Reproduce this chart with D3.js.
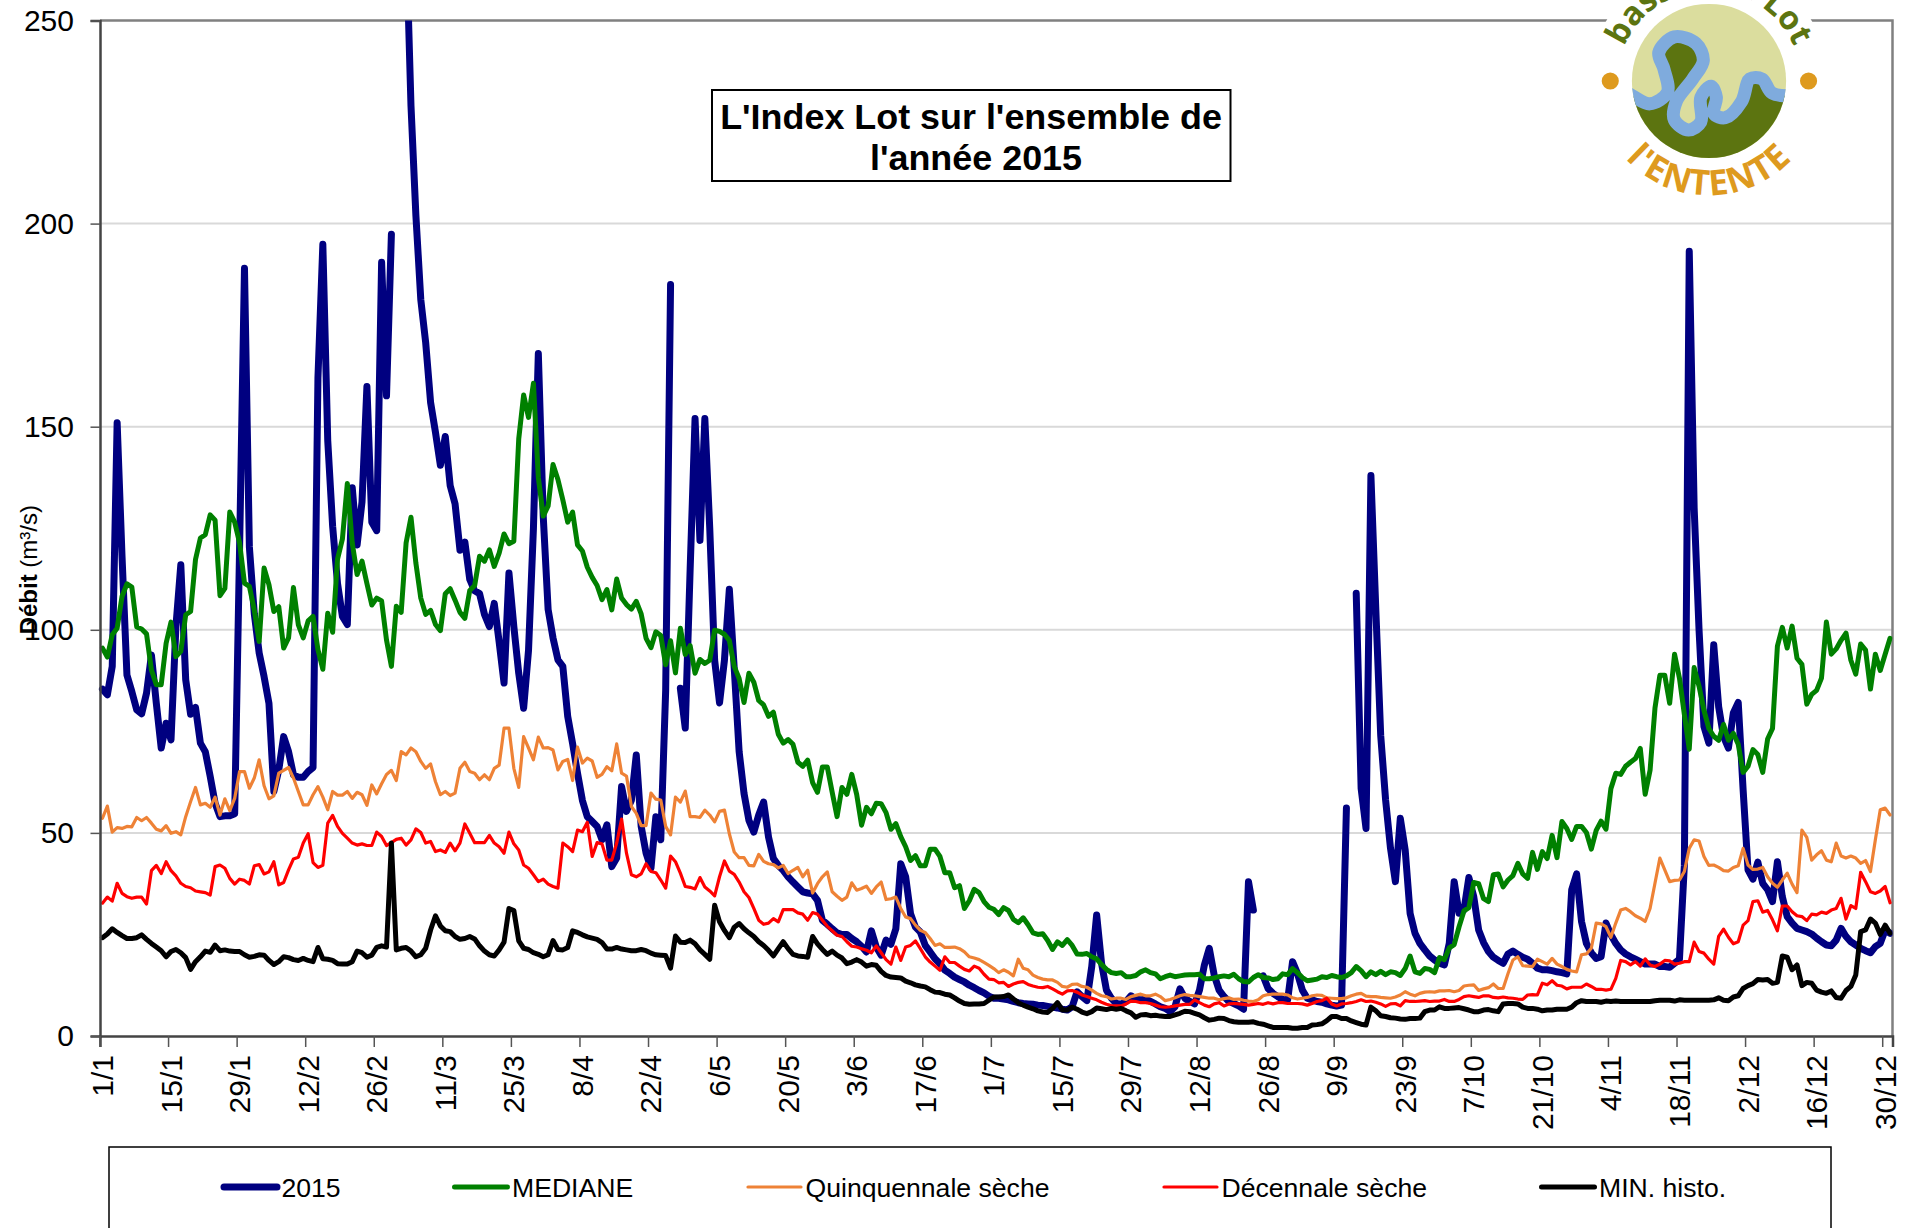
<!DOCTYPE html>
<html>
<head>
<meta charset="utf-8">
<script src="https://cdn.jsdelivr.net/npm/d3@7"></script>
<style>
html, body { margin: 0; padding: 0; background: #fff; overflow: hidden; }
svg { display: block; font-family: "Liberation Sans", Arial, sans-serif; }
</style>
</head>
<body>
<svg id="chart" width="1912" height="1228"></svg>
<script>
const tickLabels = ["1/1","15/1","29/1","12/2","26/2","11/3","25/3","8/4","22/4","6/5","20/5","3/6","17/6","1/7","15/7","29/7","12/8","26/8","9/9","23/9","7/10","21/10","4/11","18/11","2/12","16/12","30/12"];
const yTicks = [0, 50, 100, 150, 200, 250];

// daily flows in m3/s, 366 rows per series (null = no measure that day)
const debit2015 = [
85.4,84,91,151,118,88.9,84.8,80.3,79.3,84.4,
93.8,81.9,70.9,77,72.9,100.8,116,87.7,79.2,80.9,
72.1,70,63.9,57.3,54,54.2,54.2,54.7,120,189,
120.4,104,94.3,88.5,81.9,60.2,65.5,73.7,70,64.3,
63.7,63.7,65.1,66.1,162,194.9,146.6,125.5,111.4,103.3,
101.3,135,120.9,131.5,159.9,126.5,124.4,190.5,157.6,197.4,
null,null,271,229,202,181.3,170.7,156,148.6,140.5,
147.6,135.5,131,119.6,121.6,112.4,109.6,108.9,103.8,100.8,
106.5,97,86.9,114,100.8,89.3,80.7,95,125,168,
128,105,98,92.6,91,78.7,72,64.7,58,54,
52.8,51.6,48.3,52,41.7,43.8,61.4,55.3,58,69.2,
51.6,45,41.3,54,48.3,85,185,null,85.6,75.8,
115,152,122,152,125,92.5,82,92.5,110,90.5,
70,59.7,53.1,50.2,54.4,57.6,49,43.7,42,40.8,
39.2,37.9,36.7,35.5,35.2,35,33.4,28.5,27.5,26.4,
25.4,25,25,24,23.2,22.1,20.7,25.9,21.9,19.9,
23.6,22.6,26.4,42.4,39.2,30.1,26.8,25.6,22.3,20.7,
19,17.8,16.2,15.4,14.5,13.9,13.3,12.5,11.9,11.2,
10.6,9.8,9.3,9.3,9.1,8.9,8.5,8.2,8,7.9,
7.8,7.6,7.5,7.3,7.1,6.9,6.6,6.4,7.2,10.9,
9.7,8.7,17.1,29.8,17.9,11.3,9.3,8,7.8,8.5,
9.9,9.1,8.9,9.1,8.5,7.9,7.2,6.8,6,7.2,
11.6,9.3,8.5,7.9,11.3,17.5,21.6,15,11.3,9.7,
8.5,8,7.4,6.6,38,31,null,14.8,11.7,10.5,
9.7,9,8.9,18.3,15.4,11.3,9.3,8.9,8.5,8.3,
7.9,7.6,7.4,7.6,56.1,null,109,61,51.1,138,
105,74,58.1,46.2,38,53.6,45.8,30.2,25.3,22.8,
21.2,19.7,18.7,17.9,17.5,22.8,38,30.2,31,39,
34.3,26.1,23,20.8,19.4,18.6,17.9,20.2,20.9,20.1,
19.4,18.9,17.9,16.7,16.3,16.3,16.1,15.8,15.6,15.3,
36,39.9,28.2,22.8,20.5,19.1,19.5,27.8,24.9,22.8,
21.2,20.2,19.5,18.9,18.3,17.7,17.7,17.7,17.1,17.1,
16.9,17.9,18.9,42,193.2,130,100,76.2,72.1,96.3,
81.1,73.7,70.9,79.5,82.1,60.6,40.9,38.6,42.8,37.6,
36,33.1,42.9,34.3,29.4,27.8,26.5,26.1,25.7,25.1,
24.1,23.2,22.4,22.2,23.6,26.5,24.5,23.2,22.4,21.6,
21,20.5,22,22.8,26.1,25.3];

const mediane = [
95.5,93.3,98.8,100.4,108.2,111.3,110.5,100.7,100.2,99,
90.1,86.5,86.5,96.7,101.9,93.4,94.7,103.7,104.5,117.3,
122.6,123.4,128.3,127,108.4,110.2,129,126.5,121.4,111.5,
110.7,104.9,97.1,115.2,111.1,104.5,105.7,95.5,98,110.4,
101.2,98,102.2,103.3,95.1,90.3,104.1,99.4,117.4,122.4,
136,121.4,113.6,116.9,111.4,106.1,107.8,107.1,97.5,91,
105.8,104.3,121.4,127.7,116.4,107.8,103.8,104.8,101.3,99.8,
108.9,110.1,107.3,104.3,102.8,109.7,110.9,118.1,116.9,119.7,
115.6,118.9,123.6,121.2,121.8,147,157.8,152.3,160.7,137.5,
128,130.5,140.7,137,132,126.5,129,120.9,119.4,115.4,
112.9,110.9,107.4,109.9,104.9,112.5,107.8,106.2,105.1,107,
103.9,97.9,95.6,99.5,98.6,91.4,97.3,89.4,100.4,93.9,96.1,
89.3,92.7,91.7,92.5,99.9,99.6,98.9,97.4,91,88,
82.1,89.3,87.1,82.6,81.5,78.7,79.7,74.3,72.1,73,
71.8,67.4,66.4,67.9,62.4,60,66.2,66.2,60,54,
61.2,59.5,64.4,59.5,51.9,56.3,54.7,57.3,57.2,55,
50.9,52.3,49.1,46.6,43.2,44.4,41.9,41.9,46,46,
44.2,40.2,40.2,36.5,37,31.4,33.3,36.1,35.3,33.1,
31.7,31.2,29.9,31.6,30.9,28.7,27.9,29.1,27.4,25.4,
25,25.2,23.5,21.3,23.2,22.3,23.7,22.3,20.2,20.1,
20.3,19.5,19,17.6,16.4,15.6,15.4,15.6,14.6,14.6,
14.9,15.8,16.3,15.6,15.3,14.1,14.6,15,14.6,14.8,
15,15.1,15.1,15.2,14.1,14.1,14.3,14.6,14.8,14.6,
15.2,14.1,13.4,13.3,14.4,15.1,14.4,14.3,13.9,14.1,
15.3,15.1,16.6,15.6,14.4,13.6,13.8,14,14.6,14.4,
14.9,14.6,14.4,14.8,15.6,17.1,16.1,14.6,15.8,15.1,
15.9,15.1,15.8,15.6,14.9,16.6,19.7,15.8,15.4,16.6,
16.4,15.6,19.3,18.8,21.7,22.5,26.9,30.8,31.6,37.8,
37.5,33.8,33.1,39.7,39.9,36.7,38.4,39.5,42.5,39.9,
38.8,45.2,41,45.4,43.7,49.4,43.9,52.8,51.1,48.4,
51.6,51.6,50.1,46,50.6,52.9,50.9,60.9,64.7,64.4,
66.4,67.4,68.3,70.8,59.5,65.4,80.7,88.8,88.8,81.9,
94,88.1,79.2,70.6,90.7,86.1,80.2,75.7,73.8,72.8,
76.7,72.8,74.5,71.8,64.9,66.4,70.5,69.3,64.9,73.1,
75.7,96,100.6,95.5,100.9,93,91.5,81.7,84.1,85.1,
88.1,101.9,94,95.3,97.4,99.2,92.5,89.1,96.5,95,
85.4,94,90,94,97.9];

const quinquennale = [
53.6,56.6,50.2,51.3,51.1,51.6,51.5,53.8,53,53.8,
52.4,50.9,50.5,51.8,49.9,50.3,49.5,54,57.7,61.2,
56.9,57.3,56.3,58.8,54.4,58.4,55.5,58.5,65.1,65.1,
61,63.5,68,61.6,58.4,59.1,64.7,65.4,66.1,63.5,
60.2,56.9,56.9,59.4,61.4,58.8,55.7,60.2,59.3,59.3,
60.2,58.5,60,59.4,56.8,61.8,59.6,62.1,64.4,65.4,
62.9,70,69.2,70.9,70,67.6,65.9,67,62.6,59.4,
60.2,59.2,59.8,65.9,67.4,65.1,64.7,63.1,64.3,63.1,
65.9,66.7,75.8,75.8,65.9,61.2,73.7,70.9,68,73.6,
70.9,71,70.4,65.5,67.6,68.1,62.9,71.1,67.2,68.4,
67.7,63.7,64.4,66.3,65.3,71.9,64.7,64,56.5,54.8,
51.8,51.8,59.8,58.3,58.1,51.6,49.5,58.8,57.6,60.3,
54,54,53.8,55.6,54.4,52.7,55.3,55.6,49.8,45.3,
43.9,43.9,42,41.9,44.7,43,42.4,42.2,41.4,42,
40,40.8,41.5,39.2,40.8,35.2,37.5,39.2,40.4,35.5,
34.4,33.4,34.2,37.7,35.9,36.3,36.9,35.1,36.7,37.9,
33.6,33.8,34.2,31.4,29.3,28.9,27.3,26,25.5,24,
22.3,22.7,21.8,21.8,21.9,21.5,20.7,19.5,19.2,18.8,
18.1,17.4,16.6,15.6,16.3,15.7,14.8,18.9,16.7,16.3,
15,14.4,14,13.8,13.8,13.2,12.2,12,12.7,12.8,
12.2,12,11.3,10.5,9.9,9.7,9.1,9.3,9.3,9,
9.7,10,10.3,9.9,9.9,10.3,9.7,8.7,9,9.4,
9.9,10.2,10,9.9,9.7,9.5,9.3,9.3,8.9,9.2,
9.4,9,9.1,8.8,8.6,8.5,8.9,9.9,10.2,10.3,
10.3,10.3,10.1,9.4,9.1,9.3,9.5,9.9,10.1,10,
9.4,9.3,9.2,9.2,9.4,9.9,10.3,10.5,9.8,9.7,
9.7,9.5,9.4,9.3,9.6,10.1,10.9,10.3,9.9,10.5,
10.8,10.9,10.8,11.1,11.1,11.2,10.9,11.2,12.3,12.5,
12.6,11.2,11.6,11.9,12.8,11.7,11.7,15.4,18.7,19.5,
17.3,17.2,17.1,18.9,18.3,17.7,19.1,17.7,17.1,16.4,
16,15.8,20,20.2,21.6,27.8,27.6,26.9,24.3,27.8,
31,31.4,30.6,29.6,29,28.2,31.4,37.6,43.8,40.9,
38,38.3,38.4,40.5,46.2,48.3,48,44.2,42,42.1,
41.5,40.7,40.6,41.5,41.9,46.2,42.1,41,41.1,41.5,
39.2,37.6,36.6,38.4,40.1,37.4,35.3,50.7,48.9,43.3,
44.6,45.6,43.3,42.9,47.5,44.3,43.8,44.3,43.8,42.5,
43.2,40.5,48.3,55.7,56.1,54.4];

const decennale = [
32.7,34.2,33.2,37.6,35.1,34.3,33.9,34.2,34.2,32.5,
40.7,42,40,42.9,40.7,39.4,37.6,36.8,36.5,35.7,
35.5,35.3,34.7,41.7,42.1,41.3,38.8,37.4,38.6,38.3,
37.4,41.9,42.2,39.9,40.4,42.9,37.2,37.8,40.9,43.6,
44,47.5,49.8,42.7,41.5,42,52.4,54.3,51.6,49.9,
48.7,47.5,47,47.3,46.9,46.9,50.2,49.1,46.9,47.6,
48.4,48.7,47,48.3,51,50.1,47.5,47.9,45.4,45.8,
45.2,47.5,45.6,47.5,52.2,49.9,47.6,47.6,47.6,49.4,
47.5,46.6,45,50.2,47.3,45.8,42.1,41.3,39.7,38,
38.6,37.4,36.8,36.4,47.5,46.6,45.4,50.7,50.3,52.6,
44.2,47.6,47.3,43.3,43.3,47.5,53.4,45,39.7,39.2,
39.9,42.4,40.5,40.2,38.4,36.4,44.3,42.9,40.1,36.8,
36.6,36.2,39,36.7,35.7,34.5,39.2,43.1,40.6,39.8,
37.9,35.5,34.1,31.4,28.5,27.5,27.8,28.9,28.1,31.1,
31.1,31.1,30.3,30,28.5,30.4,30,28.5,27,25.9,
24.8,24.5,23.2,22.1,21.9,21.5,21.1,20.5,22.2,20.5,
18.8,17.7,21.9,18.6,21.9,22.3,23.4,21.5,19.5,18.2,
17.2,16.2,19.5,18.1,18.1,17.2,16.4,16,17.2,16.7,
15.2,14,13.9,13.1,13.2,12.2,12.8,13.2,13.4,12.7,
12.3,12,11.9,12.2,11.6,10.9,10.3,11.1,11.2,10.8,
10.1,9.7,9.3,8.9,8.3,7.8,7.5,7.4,7.4,7.9,
8.6,8.5,8.2,8.2,8,7.6,7.2,7.1,7.2,7.4,
7.6,7.8,7.8,8.9,8.2,7.6,7.2,7.9,8.2,7.4,
7.9,8,7.9,7.8,7.6,7.8,8,7.8,8.2,7.9,
8.2,8.2,8,8,8,7.9,7.6,8,8.5,8.7,
9.3,7.9,7.4,7.9,8,8.2,8.5,8.9,8.5,8.6,
8.3,7.9,7.3,7.9,8,7.4,8.7,8.5,8.5,8.6,
8.7,8.5,8.6,8.6,9,8.5,8.5,9,9.7,9.9,
9.7,9.5,9.9,9.9,9.5,9.4,9.6,9.4,9.3,9.1,
9,10.1,10.2,10.1,13,12.6,13.6,12.5,12.3,11.6,
12,12,12,12.8,12.2,11.5,11.5,11.3,11.5,14.2,
18.6,18.3,17.5,18.3,17.2,19,17.5,17.1,17.7,18.6,
18.5,17.7,17.9,18.3,18.3,23.1,20.8,20.4,18.9,17.7,
24.5,26.3,24.3,22.7,23.2,27.3,28.4,33.1,33.3,30.5,
30.9,28.6,25.9,32,32,30.6,29.6,29.4,28.4,30,
29.8,30.5,30.2,31,31.4,33.9,28.8,32.1,31.4,40.3,
38,35.5,35.1,35.7,36.8,32.8];

const minHisto = [
24.2,25.1,26.4,25.5,24.7,24,24,24.2,24.9,23.8,
22.8,21.9,21,19.5,20.8,21.3,20.5,19.3,16.4,18.3,
19.5,20.9,20.6,22.4,21,21.2,20.9,20.8,20.8,20,
19.4,19.6,20,19.9,18.6,17.6,18.3,19.5,19.3,18.8,
18.6,19.1,18.6,18.3,21.8,19,18.9,18.6,17.8,17.7,
17.7,18.3,20.9,20.5,19.4,19.9,21.8,22.2,21.9,47.5,
21.2,21.6,21.8,20.9,19.5,20,21.6,26.1,29.6,27.1,
25.9,25.7,24.5,23.8,24,24.5,23.9,22.2,20.9,20,
19.7,21.2,23.1,31.4,30.9,23.4,21.6,21.3,20.5,20.1,
19.5,20,23.5,21.3,21.2,21.8,25.9,25.5,24.9,24.4,
24.1,23.8,23,21.4,21.4,21.8,21.4,21.2,21,21,
21.3,21,20.4,20,19.9,19.8,16.7,24.6,23.1,23,
23.6,22.7,21.2,20.1,18.9,32.2,28.1,26,24.2,26.8,
27.7,26.4,25.4,24.5,23.2,22.3,21.1,19.7,21.5,23.2,
21.5,20.1,19.7,19.6,19.4,24.5,22.7,21.3,20.1,20.9,
19.9,19.2,17.8,18.2,18.8,18.2,17.2,17.6,17.4,15.9,
14.9,14.5,14.4,14.3,13.5,13.1,12.6,12.3,12.1,11.4,
10.8,10.7,10.3,10.1,9.4,8.6,8,7.8,7.9,7.9,
8,8.8,9.6,9.6,9.7,10.1,9.1,8.2,7.6,7.1,
6.7,6.2,5.9,5.8,6.8,8.2,6.4,6.4,7.1,6.6,
5.9,5.5,6,6.9,6.7,6.5,6.8,6.6,6.8,6.2,
5.7,4.6,5.2,5.3,5,5.1,4.9,4.8,4.8,5.2,
5.6,6.1,6,5.6,5.2,4.5,3.9,4.1,4.4,4.3,
3.8,3.5,3.4,3.4,3.4,3.5,3.1,2.9,2.5,2.1,
2.1,2.1,2.1,1.9,1.9,2.1,2.1,2.7,2.8,3,
3.8,4.8,4.8,4.3,4.3,3.7,3.3,2.9,2.7,7.1,
6.2,5,4.8,4.5,4.4,4.2,4.1,4.3,4.3,4.4,
6,6.4,6.4,7.2,6.8,6.8,6.9,7,6.7,6.4,
6,6,6.4,6.5,6.2,6,7.9,8,8,7.9,
7.1,6.8,6.8,6.6,6.2,6.4,6.4,6.6,6.6,6.6,
7.1,8.2,8.7,8.5,8.5,8.5,8.3,8.6,8.5,8.6,
8.5,8.5,8.5,8.5,8.5,8.5,8.5,8.7,8.8,8.8,
8.8,8.6,8.9,8.8,8.8,8.8,8.8,8.8,8.8,8.9,
9.4,8.8,8.7,9.6,9.9,11.7,12.4,12.9,13.9,13.8,
13.9,13,13.2,19.7,19.4,16.3,17.5,12.4,13.2,13,
11.3,10.8,10.5,11.1,9.5,9.3,11.2,12.2,15,25.7,
26.1,28.8,27.8,25,27.3,25.3];

const seriesNames = ["2015", "MEDIANE", "Quinquennale sèche", "Décennale sèche", "MIN. histo."];
const seriesValues = [debit2015, mediane, quinquennale, decennale, minHisto];

let colors = ["#000080", "#008000", "#EE8236", "#FF0000", "#000000"];
let widths = [7, 5, 3.2, 3.2, 5];
let legendSwatchX = [223, 453.5, 747, 1163, 1540.5];

let svg = d3.select("#chart");
let plot = { left: 100, right: 1892.5, top: 20.5, bottom: 1036 };

let xScale = d3.scaleBand()
    .domain(d3.range(debit2015.length))
    .range([plot.left, plot.right]);
let yScale = d3.scaleLinear()
    .domain([0, 250])
    .range([plot.bottom, plot.top]);

// gridlines
svg.append("g").selectAll("line")
    .data(yTicks.slice(1, 5))
    .enter().append("line")
    .attr("x1", plot.left)
    .attr("x2", plot.right)
    .attr("y1", d => yScale(d))
    .attr("y2", d => yScale(d))
    .attr("stroke", "#d9d9d9")
    .attr("stroke-width", 2);

// top and right border of the plot
svg.append("path")
    .attr("d", `M${plot.left},${plot.top}H${plot.right}V${plot.bottom}`)
    .attr("fill", "none")
    .attr("stroke", "#808080")
    .attr("stroke-width", 2.5);

svg.append("clipPath").attr("id", "plotClip")
    .append("rect")
    .attr("x", plot.left - 2)
    .attr("y", plot.top)
    .attr("width", plot.right - plot.left + 2)
    .attr("height", plot.bottom - plot.top);

let line = d3.line()
    .defined(d => d !== null)
    .x((d, i) => xScale(i) + xScale.bandwidth() / 2)
    .y(d => yScale(d));

svg.append("g").attr("clip-path", "url(#plotClip)")
    .selectAll("path")
    .data(seriesValues)
    .enter().append("path")
    .attr("d", d => line(d))
    .attr("fill", "none")
    .attr("stroke", (d, i) => colors[i])
    .attr("stroke-width", (d, i) => widths[i])
    .attr("stroke-linejoin", "round")
    .attr("stroke-linecap", "round");

// axes
let yAxis = svg.append("g")
    .attr("transform", `translate(${plot.left},0)`)
    .call(d3.axisLeft(yScale).tickValues(yTicks).tickSize(9.5).tickPadding(16.5));
yAxis.select(".domain").attr("stroke", "#444").attr("stroke-width", 2.5);
yAxis.selectAll("line").attr("stroke", "#555").attr("stroke-width", 1.5);
yAxis.selectAll("text")
    .attr("font-family", "Liberation Sans")
    .attr("font-size", 30)
    .attr("fill", "#000");

let xAxis = svg.append("g")
    .attr("transform", `translate(0,${plot.bottom})`)
    .call(d3.axisBottom(xScale)
        .tickValues(d3.range(0, debit2015.length, 14))
        .tickFormat((d, i) => tickLabels[i])
        .tickSize(11));
xAxis.select(".domain").attr("stroke", "#444").attr("stroke-width", 2.5);
// Excel puts the tick marks on the edge of the category, not the middle
xAxis.selectAll("line")
    .attr("x1", -xScale.bandwidth() / 2)
    .attr("x2", -xScale.bandwidth() / 2)
    .attr("stroke", "#555")
    .attr("stroke-width", 1.5);
xAxis.selectAll("text")
    .attr("font-family", "Liberation Sans")
    .attr("font-size", 30)
    .attr("fill", "#000")
    .attr("text-anchor", "end")
    .attr("dy", "0.35em")
    .attr("transform", "translate(0,10) rotate(-90)")
    .attr("x", -9)
    .attr("y", 0);

// y title
let yTitle = svg.append("text")
    .attr("transform", "translate(37,505) rotate(-90)")
    .attr("text-anchor", "end")
    .attr("font-size", 24);
yTitle.append("tspan").attr("font-weight", "bold").text("Débit");
yTitle.append("tspan").text(" (m³/s)");

// title box
svg.append("rect")
    .attr("x", 712)
    .attr("y", 90)
    .attr("width", 518.5)
    .attr("height", 91)
    .attr("fill", "#fff")
    .attr("stroke", "#000")
    .attr("stroke-width", 2);
svg.selectAll(".title")
    .data(["L'Index Lot sur l'ensemble de", "l'année 2015"])
    .enter().append("text")
    .attr("class", "title")
    .attr("x", (d, i) => 971 + i * 5)
    .attr("y", (d, i) => 129 + i * 41)
    .attr("text-anchor", "middle")
    .attr("font-size", 35.9)
    .attr("font-weight", "bold")
    .text(d => d);

// legend, its box runs off the bottom of the page
svg.append("rect")
    .attr("x", 109)
    .attr("y", 1147)
    .attr("width", 1722)
    .attr("height", 200)
    .attr("fill", "#fff")
    .attr("stroke", "#000")
    .attr("stroke-width", 1.5);
let legend = svg.selectAll(".legend")
    .data(seriesNames)
    .enter().append("g")
    .attr("class", "legend")
    .attr("transform", (d, i) => `translate(${legendSwatchX[i]},1187)`);
legend.append("line")
    .attr("x1", 1)
    .attr("x2", 54)
    .attr("stroke", (d, i) => colors[i])
    .attr("stroke-width", (d, i) => widths[i])
    .attr("stroke-linecap", "round");
legend.append("text")
    .attr("x", 58.5)
    .attr("y", 9.5)
    .attr("font-size", 26.6)
    .text(d => d);

// logo, drawn in its own coordinates and scaled down
let logo = svg.append("g")
    .attr("transform", "translate(1709,81) scale(0.408) translate(-1070,-200)");
logo.append("circle").attr("cx", 1070).attr("cy", 200).attr("r", 292).attr("fill", "#fff");
logo.append("clipPath").attr("id", "logoClip")
    .append("circle").attr("cx", 1070).attr("cy", 200).attr("r", 189);
let riverPoints = [[860,222],[885,238],[925,256],[968,228],[960,172],[947,130],[985,92],[1038,108],[1056,150],[1030,195],[990,250],[985,295],[1020,320],[1050,300],[1050,240],[1075,213],[1088,240],[1082,280],[1110,290],[1150,250],[1170,195],[1200,195],[1225,230],[1280,236]];
let riverLine = d3.line().curve(d3.curveCatmullRom);
let logoInner = logo.append("g").attr("clip-path", "url(#logoClip)");
logoInner.append("rect").attr("x", 870).attr("y", 0).attr("width", 400).attr("height", 400).attr("fill", "#DBDD9E");
logoInner.append("path")
    .attr("d", riverLine(riverPoints) + "L1280,420L860,420Z")
    .attr("fill", "#5C7410");
logoInner.append("path")
    .attr("d", riverLine(riverPoints))
    .attr("fill", "none")
    .attr("stroke", "#7FABDD")
    .attr("stroke-width", 32);
logo.selectAll(".dot")
    .data([828, 1314])
    .enter().append("circle")
    .attr("cx", d => d)
    .attr("cy", 200)
    .attr("r", 21)
    .attr("fill", "#DE9A1E");
logo.append("path").attr("id", "arcTop").attr("fill", "none")
    .attr("d", "M848,239 A225,225 0 1 1 1292,239");
logo.append("path").attr("id", "arcBottom").attr("fill", "none")
    .attr("d", "M807,296 A280,280 0 0 0 1333,296");
logo.append("text")
    .attr("font-family", "Open Sans")
    .attr("font-weight", "bold")
    .attr("font-size", 80)
    .attr("fill", "#5C7410")
    .attr("text-anchor", "middle")
    .append("textPath").attr("href", "#arcTop").attr("startOffset", "50%")
    .text("bassin du Lot");
logo.append("text")
    .attr("font-family", "Open Sans")
    .attr("font-weight", "bold")
    .attr("font-size", 86)
    .attr("letter-spacing", 3)
    .attr("fill", "#DE9A1E")
    .attr("text-anchor", "middle")
    .append("textPath").attr("href", "#arcBottom").attr("startOffset", "50%")
    .text("l'ENTENTE");
</script>
</body>
</html>
